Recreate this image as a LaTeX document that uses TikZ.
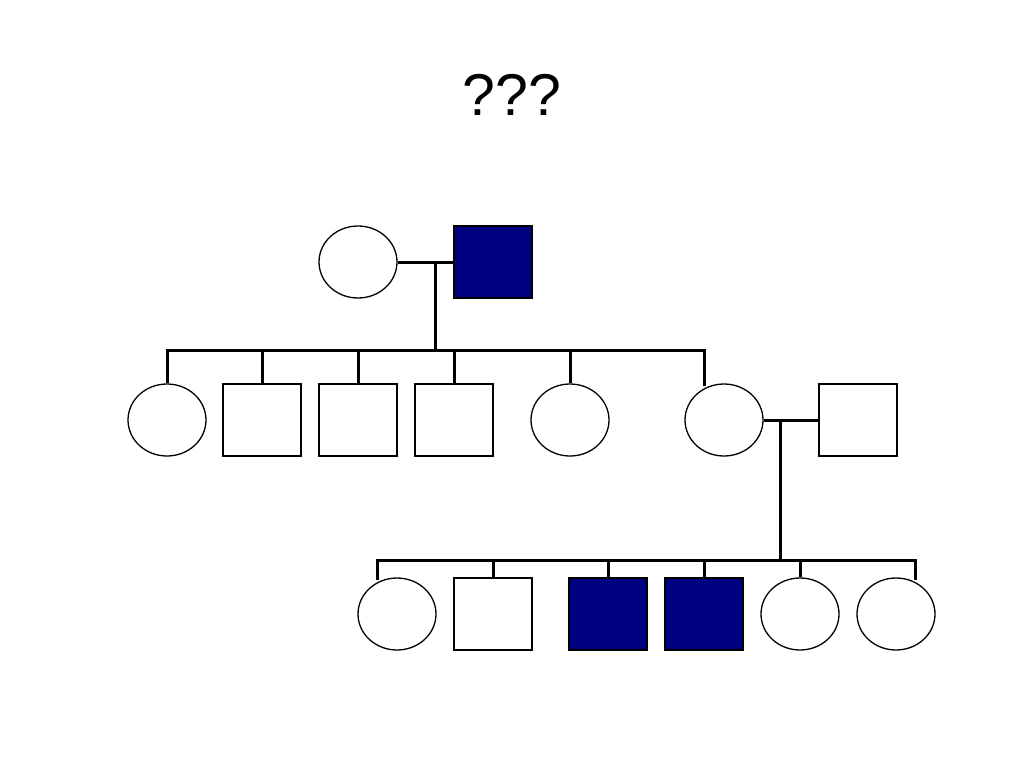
\documentclass[tikz,border=0pt]{standalone}
\usepackage{fontspec}
\setmainfont{Liberation Sans}
\usetikzlibrary{shapes.geometric}
\definecolor{affected}{HTML}{000080}
\begin{document}
\begin{tikzpicture}[x=1pt,y=-1pt,
  female/.style={ellipse,draw=black,line width=1.3pt,fill=white,minimum width=78pt,minimum height=72pt,inner sep=0pt},
  male/.style={rectangle,draw=black,line width=1.3pt,fill=white,minimum width=78pt,minimum height=72pt,inner sep=0pt},
  aff/.style={male,fill=affected},
  link/.style={draw=black,line width=3pt}]
\useasboundingbox (0,0) rectangle (1024,768);
\fill[white] (0,0) rectangle (1024,768);
\node[anchor=base,font=\fontsize{59}{66}\selectfont] (title) at (512,115) {???};
% generation I
\node[female] (f0) at (358,262) {};
\node[aff] (m0) at (493,262) {};
% generation II
\node[female] (c1) at (167,420) {};
\node[male] (c2) at (262,420) {};
\node[male] (c3) at (358,420) {};
\node[male] (c4) at (454,420) {};
\node[female] (c5) at (570,420) {};
\node[female] (c6) at (724,420) {};
\node[male] (sp) at (858,420) {};
% generation III
\node[female] (g1) at (397,614) {};
\node[male] (g2) at (493,614) {};
\node[aff] (g3) at (608,614) {};
\node[aff] (g4) at (704,614) {};
\node[female] (g5) at (800,614) {};
\node[female] (g6) at (896,614) {};
% coordinates
\coordinate (m1) at (435,262);
\coordinate (b1) at (435,350);
\coordinate (b1l) at (167,350);
\coordinate (b1r) at (704,350);
\coordinate (m2) at (780,420);
\coordinate (b2) at (780,560);
\coordinate (b2l) at (377,560);
\coordinate (b2r) at (915,560);
% connectors
\draw[link] (f0.east) -- (m0.west);
\draw[link] (m1) -- (b1);
\draw[link] (c1.north) -- (b1l) -- (b1r) -- (704,386);
\draw[link] (262,350) -- (c2.north);
\draw[link] (358,350) -- (c3.north);
\draw[link] (454,350) -- (c4.north);
\draw[link] (570,350) -- (c5.north);
\draw[link] (c6.east) -- (sp.west);
\draw[link] (m2) -- (b2);
\draw[link] (377,580) -- (b2l) -- (b2r) -- (915,580);
\draw[link] (493,560) -- (g2.north);
\draw[link] (608,560) -- (g3.north);
\draw[link] (704,560) -- (g4.north);
\draw[link] (800,560) -- (g5.north);
\end{tikzpicture}
\end{document}
